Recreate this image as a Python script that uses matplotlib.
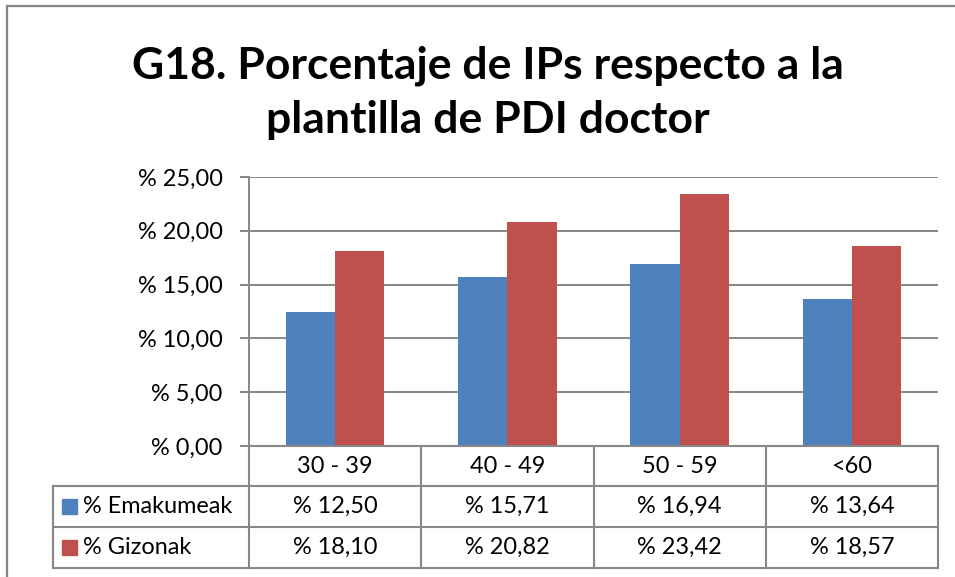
import matplotlib
matplotlib.use("Agg")
import matplotlib.pyplot as plt
from matplotlib.lines import Line2D
from matplotlib.patches import Rectangle

# data
categories = ["30 - 39", "40 - 49", "50 - 59", "<60"]
series_names = ["% Emakumeak", "% Gizonak"]
emakumeak = [12.50, 15.71, 16.94, 13.64]
gizonak = [18.10, 20.82, 23.42, 18.57]
y_ticks = [0, 5, 10, 15, 20, 25]

colors = ["#4F81BD", "#C0504D"]
grey = "#878787"

W, H = 955, 577
plt.rcParams['font.family'] = ['Lato', 'DejaVu Sans']


def pct(v):
    return ("%% %.2f" % v).replace(".", ",")


# pixel helpers (origin top-left)
def fx(px):
    return px / W

def fy(py):
    return 1 - py / H


fig = plt.figure(figsize=(W / 100, H / 100), dpi=100)
renderer = fig.canvas.get_renderer()


# font size that gives a string a given width in pixels
def fit_size(s, width_px, weight="normal"):
    t = fig.text(0, 0, s, fontsize=10, fontweight=weight)
    w = t.get_window_extent(renderer).width
    t.remove()
    return 10 * width_px / w


fs = fit_size("% 12,50", 85)
fs_title = fit_size("G18. Porcentaje de", 380, "bold")

# plot area
left, right, top, bottom = 249, 938, 177, 446
ax = fig.add_axes([fx(left), fy(bottom), (right - left) / W, (bottom - top) / H])

n = len(categories)
bw = 1 / 3.5  # excel gap width 150%
xs = list(range(n))
ax.bar([x - bw / 2 for x in xs], emakumeak, bw, color=colors[0], zorder=3)
ax.bar([x + bw / 2 for x in xs], gizonak, bw, color=colors[1], zorder=3)

ax.set_xlim(-0.5, n - 0.5)
ax.set_ylim(0, 25)
ax.set_yticks(y_ticks)
ax.set_yticklabels([pct(v) for v in y_ticks], fontsize=fs)
ax.set_xticks([])
ax.yaxis.grid(True, color=grey, lw=1.4, zorder=0)
for s in ["top", "right", "bottom"]:
    ax.spines[s].set_visible(False)
ax.spines["left"].set_color(grey)
ax.spines["left"].set_linewidth(1.4)
ax.tick_params(axis="y", length=6.5, width=1.4, color=grey, pad=12.5)

# data table below the plot
row_h = 41
rows_top = [446, 486, 527]
col_edges = [left + i * (right - left) / n for i in range(n + 1)]
leg_left = 53
lw = 1.5
tbl_bottom = rows_top[-1] + row_h

# horizontal lines
fig.add_artist(Line2D([fx(left), fx(right)], [fy(446), fy(446)], color=grey, lw=lw))
for yy in [486, 527, tbl_bottom]:
    fig.add_artist(Line2D([fx(leg_left), fx(right)], [fy(yy), fy(yy)], color=grey, lw=lw))
# vertical lines
for xx in col_edges:
    fig.add_artist(Line2D([fx(xx), fx(xx)], [fy(446), fy(tbl_bottom)], color=grey, lw=lw))
fig.add_artist(Line2D([fx(leg_left), fx(leg_left)], [fy(486), fy(tbl_bottom)], color=grey, lw=lw))

# header row
for i, c in enumerate(categories):
    cx = (col_edges[i] + col_edges[i + 1]) / 2
    fig.text(fx(cx), fy(446 + row_h / 2), c, ha="center", va="center", fontsize=fs)

# data rows
for r, (name, vals) in enumerate(zip(series_names, [emakumeak, gizonak])):
    cy = rows_top[r + 1] + row_h / 2
    fig.add_artist(Rectangle((fx(62), fy(cy + 7.5)), 15 / W, 15 / H, color=colors[r]))
    fig.text(fx(83), fy(cy), name, ha="left", va="center", fontsize=fs)
    for i, v in enumerate(vals):
        cx = (col_edges[i] + col_edges[i + 1]) / 2
        fig.text(fx(cx), fy(cy), pct(v), ha="center", va="center", fontsize=fs)

# title
fig.text(fx(488), fy(78), "G18. Porcentaje de IPs respecto a la",
         ha="center", va="baseline", fontsize=fs_title, fontweight="bold")
fig.text(fx(488), fy(133), "plantilla de PDI doctor",
         ha="center", va="baseline", fontsize=fs_title, fontweight="bold")

# chart frame
fig.add_artist(Line2D([fx(7), fx(7)], [fy(6), fy(H)], color=grey, lw=1.6))
fig.add_artist(Line2D([fx(7), fx(W)], [fy(6), fy(6)], color=grey, lw=1.6))

fig.savefig("out.png", dpi=100)
